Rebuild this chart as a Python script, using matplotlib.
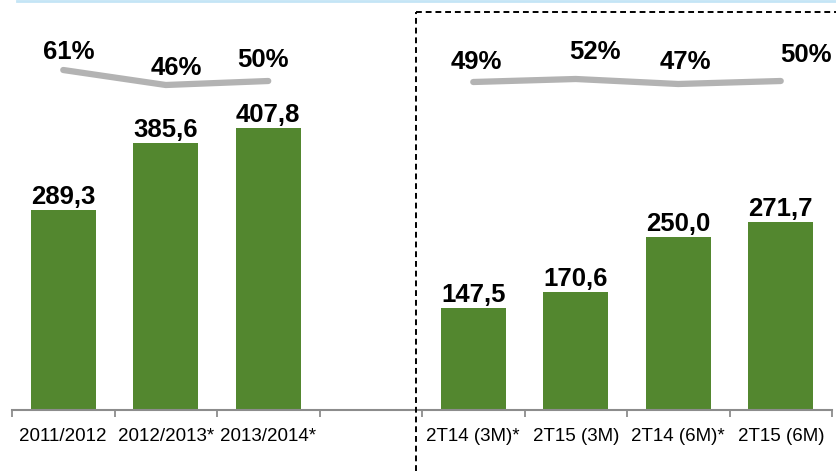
import numpy as np
import matplotlib
matplotlib.use('Agg')
import matplotlib.pyplot as plt
from matplotlib.lines import Line2D

plt.rcParams['font.family'] = ['Liberation Sans', 'DejaVu Sans']

# data
categories = ['2011/2012', '2012/2013*', '2013/2014*', '',
              '2T14 (3M)*', '2T15 (3M)', '2T14 (6M)*', '2T15 (6M)']
bar_slots = [0, 1, 2, 4, 5, 6, 7]
bar_values = [289.3, 385.6, 407.8, 147.5, 170.6, 250.0, 271.7]
pct_left = [61, 46, 50]
pct_right = [49, 52, 47, 50]
# label offsets (pixels) for the percentage texts
pct_offsets = [(6, 18), (11, 17), (-5, 21), (3, 20), (19, 27), (7, 22), (25, 26)]

W, H = 836, 471
fig = plt.figure(figsize=(W / 100, H / 100), dpi=100)
ax = fig.add_axes([12 / W, (H - 410) / H, 820 / W, 410 / H])

green = '#53872F'
ax.bar(bar_slots, bar_values, width=0.63, color=green, zorder=2)
for x, v in zip(bar_slots, bar_values):
    ax.text(x, v + 2, f'{v:.1f}'.replace('.', ','), ha='center', va='bottom',
            fontsize=18.5, fontweight='bold', color='black')

ax.set_xlim(-0.5, 7.5)
ax.set_ylim(0, 593)
ax.set_yticks([])
for s in ['top', 'right', 'left']:
    ax.spines[s].set_visible(False)
ax.spines['bottom'].set_color('#8c8c8c')
ax.spines['bottom'].set_linewidth(1.5)

ax.set_xticks(np.arange(-0.5, 8, 1))
ax.set_xticklabels([])
ax.tick_params(axis='x', which='major', length=5, width=1.3, color='#8c8c8c', direction='out')
ax.set_xticks(np.arange(8), minor=True)
ax.set_xticklabels(categories, minor=True, fontsize=13.5)
ax.tick_params(axis='x', which='minor', length=0, pad=13)

# percentage line
ax2 = ax.twinx()
ax2.set_ylim(-279, 131)
ax2.axis('off')
gray = '#b3b3b3'
ax2.plot([0, 1, 2], pct_left, color=gray, lw=4.5, solid_capstyle='round',
         solid_joinstyle='round')
ax2.plot([4, 5, 6, 7], pct_right, color=gray, lw=4.5, solid_capstyle='round',
         solid_joinstyle='round')
pct_x = [0, 1, 2, 4, 5, 6, 7]
for x, p, (dx, dy) in zip(pct_x, pct_left + pct_right, pct_offsets):
    ax2.annotate(f'{p}%', (x, p), xytext=(dx, dy), textcoords='offset pixels',
                 ha='center', va='center', fontsize=18.5, fontweight='bold')

# decorations
fig.add_artist(Line2D([17 / W, 1], [1 - 1 / H, 1 - 1 / H], color='#c4e5f6', lw=2))
fig.add_artist(Line2D([416 / W, 416 / W], [0, 1 - 12 / H], color='black', lw=1.4,
                      linestyle=(0, (3, 2))))
fig.add_artist(Line2D([416 / W, 1], [1 - 12 / H, 1 - 12 / H], color='black', lw=1.4,
                      linestyle=(0, (3, 2))))

fig.savefig('out.png', dpi=100)
